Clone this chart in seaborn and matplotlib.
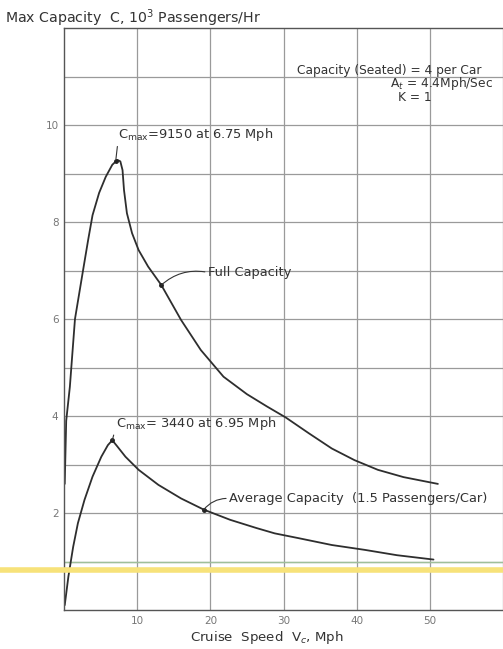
import numpy as np
import pandas as pd
import matplotlib
matplotlib.use("Agg")
import matplotlib.pyplot as plt
import seaborn as sns

# ---- data ----
full_speed = [0.1, 0.3, 0.8, 1.5, 2.6, 3.3, 3.9, 4.8, 5.7, 6.6, 7.3, 7.7,
              8.0, 8.2, 8.6, 9.3, 10.2, 11.5, 13.3, 16.0, 18.7, 21.8, 25.0,
              27.7, 30.3, 33.5, 36.6, 39.7, 42.9, 46.4, 51.1]
full_cap = [2.6, 3.9, 4.6, 6.0, 7.0, 7.63, 8.14, 8.6, 8.93, 9.18, 9.28, 9.25,
            9.07, 8.66, 8.18, 7.77, 7.42, 7.08, 6.7, 5.98, 5.36, 4.81, 4.45,
            4.2, 3.97, 3.64, 3.33, 3.09, 2.89, 2.74, 2.6]

avg_speed = [0.1, 0.6, 1.25, 1.9, 2.8, 3.9, 5.1, 6.0, 6.6, 7.3, 8.4, 10.2,
             12.9, 16.0, 19.1, 22.7, 26.3, 28.8, 32.1, 36.6, 41.1, 45.5, 50.5]
avg_cap = [0.1, 0.69, 1.3, 1.79, 2.27, 2.75, 3.16, 3.4, 3.5, 3.37, 3.16,
           2.89, 2.58, 2.3, 2.07, 1.86, 1.69, 1.58, 1.48, 1.34, 1.24, 1.13,
           1.04]

x_ticks = [10, 20, 30, 40, 50]
y_ticks = [2, 4, 6, 8, 10]

title_text = "Max Capacity  C, 10$^3$ Passengers/Hr"
xlabel_text = "Cruise  Speed  V$_c$, Mph"
cmax_full_text = "C$_{\\rm max}$=9150 at 6.75 Mph"
cmax_avg_text = "C$_{\\rm max}$= 3440 at 6.95 Mph"
full_label = "Full Capacity"
avg_label = "Average Capacity  (1.5 Passengers/Car)"
params_text = ["Capacity (Seated) = 4 per Car", "A$_t$ = 4.4Mph/Sec", "K = 1"]

df = pd.concat([
    pd.DataFrame({"speed": full_speed, "cap": full_cap, "series": "full"}),
    pd.DataFrame({"speed": avg_speed, "cap": avg_cap, "series": "avg"}),
])

sns.set_style("white")
plt.rcParams["font.family"] = ["DejaVu Sans"]

W, H = 503, 649
fig = plt.figure(figsize=(W / 100, H / 100), dpi=100)
ax = fig.add_axes([64 / W, (H - 610) / H, (W - 64) / W, (610 - 28) / H])

sns.lineplot(data=df, x="speed", y="cap", units="series", estimator=None,
             sort=False, color="#2e2e2e", lw=1.3, ax=ax, legend=False)

ax.set_xlim(0, 58.9)
ax.set_ylim(0, 12)
ax.set_xticks(x_ticks)
ax.set_xticklabels([str(v) for v in x_ticks])
ax.set_xticks([60], minor=True)
ax.set_yticks(y_ticks)
ax.set_yticklabels([str(v) for v in y_ticks])
ax.set_yticks([1, 3, 5, 7, 9, 11], minor=True)
ax.grid(True, which="both", color="#9a9a9a", lw=0.9)
ax.tick_params(axis="both", which="both", length=0, labelsize=7.5,
               colors="#777777")
ax.tick_params(axis="y", pad=4)
ax.tick_params(axis="x", pad=4)
for s in ["left", "bottom", "top"]:
    ax.spines[s].set_color("#555555")
    ax.spines[s].set_linewidth(1.0)
ax.spines["right"].set_visible(False)
ax.set_xlabel("")
ax.set_ylabel("")

# greenish tint on the lowest grid line, as in the scan
ax.axhline(1, color="#9fbf9a", lw=1.0, zorder=1.5)
# yellow highlighter band across the page
ax.axhline(0.82, xmin=-0.16, xmax=1.0, color="#f7e27a", lw=4, clip_on=False,
           zorder=5)

fig.text(5 / W, 1 - 18 / H, title_text, fontsize=10.2, color="#333333",
         va="center", ha="left")
fig.text(267 / W, 1 - 637 / H, xlabel_text, fontsize=9.6, color="#333333",
         va="center", ha="center")

# parameter block
ax.text(57.1, 11.13, params_text[0], fontsize=8.8, ha="right", va="center",
        color="#333333")
ax.text(44.5, 10.85, params_text[1], fontsize=8.8, ha="left", va="center",
        color="#333333")
ax.text(45.6, 10.56, params_text[2], fontsize=8.8, ha="left", va="center",
        color="#333333")

def mark(xs, ys, xp):
    return xp, float(np.interp(xp, xs, ys))

afs = 9.4

# Cmax full annotation
px, py = mark(full_speed, full_cap, 7.1)
ax.plot([px], [py], "o", ms=2.5, color="#222222")
ax.annotate(cmax_full_text, xy=(px, py + 0.05), xytext=(7.4, 9.8),
            fontsize=afs, color="#333333", va="center", ha="left",
            arrowprops=dict(arrowstyle="-", color="#333333", lw=0.8,
                            shrinkA=0, shrinkB=0, relpos=(0.0, 0.2)))

# Full Capacity label
px, py = mark(full_speed, full_cap, 13.3)
ax.plot([px], [py], "o", ms=2.5, color="#222222")
ax.annotate(full_label, xy=(px, py), xytext=(19.7, 6.96), fontsize=afs,
            color="#333333", va="center", ha="left",
            arrowprops=dict(arrowstyle="-", color="#333333", lw=0.8,
                            shrinkA=0, shrinkB=0, relpos=(0.0, 0.5),
                            connectionstyle="arc3,rad=0.25"))

# Cmax average annotation
px, py = mark(avg_speed, avg_cap, 6.6)
ax.plot([px], [py], "o", ms=2.5, color="#222222")
ax.annotate(cmax_avg_text, xy=(px, py), xytext=(7.1, 3.85), fontsize=afs,
            color="#333333", va="center", ha="left",
            arrowprops=dict(arrowstyle="-", color="#333333", lw=0.8,
                            shrinkA=0, shrinkB=0, relpos=(0.0, 0.3)))

# Average capacity label
px, py = mark(avg_speed, avg_cap, 19.1)
ax.plot([px], [py], "o", ms=2.5, color="#222222")
ax.annotate(avg_label, xy=(px, py), xytext=(22.6, 2.3), fontsize=afs,
            color="#333333", va="center", ha="left",
            arrowprops=dict(arrowstyle="-", color="#333333", lw=0.8,
                            shrinkA=0, shrinkB=0, relpos=(0.0, 0.5),
                            connectionstyle="arc3,rad=0.25"))

fig.savefig("out.png", dpi=100)
